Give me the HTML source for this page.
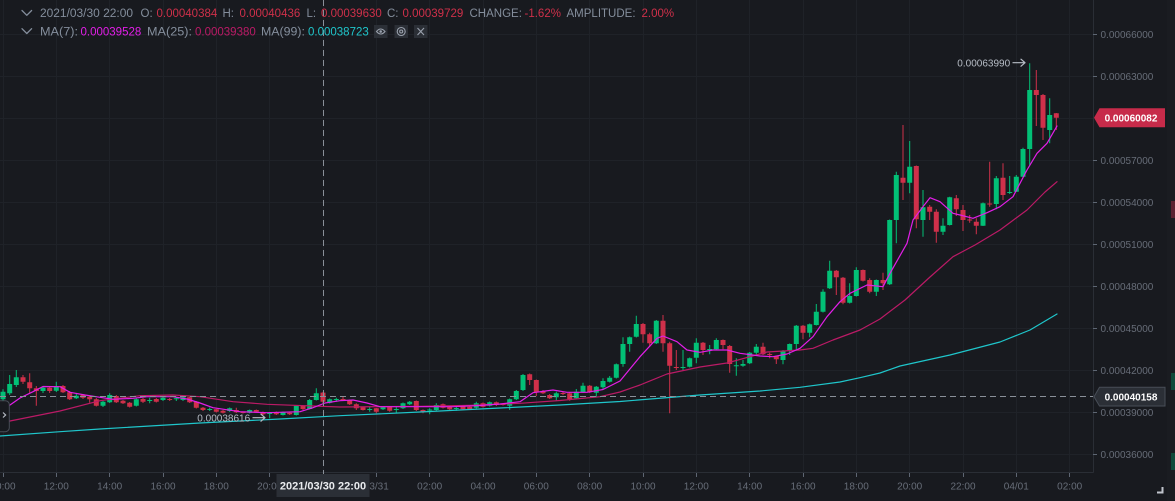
<!DOCTYPE html>
<html><head><meta charset="utf-8"><style>
html,body{margin:0;padding:0;background:#181a1f;}
body{width:1175px;height:501px;overflow:hidden;position:relative;font-family:"Liberation Sans",sans-serif;}
svg{position:absolute;left:0;top:0;}
</style></head><body>
<svg width="1175" height="501" viewBox="0 0 1175 501" xmlns="http://www.w3.org/2000/svg" font-family="Liberation Sans, sans-serif">
<rect x="0" y="0" width="1175" height="501" fill="#181a1f"/>
<!-- grid -->
<g stroke="#1f2228" stroke-width="1">
<path d="M3.5 0V472M56.5 0V472M109.5 0V472M163.5 0V472M216.5 0V472M269.5 0V472M323.5 0V472M376.5 0V472M429.5 0V472M483.5 0V472M536.5 0V472M589.5 0V472M643.5 0V472M696.5 0V472M749.5 0V472M803.5 0V472M856.5 0V472M909.5 0V472M963.5 0V472M1016.5 0V472M1069.5 0V472"/>
<path d="M0 34.5H1093M0 76.5H1093M0 118.5H1093M0 160.5H1093M0 202.5H1093M0 244.5H1093M0 286.5H1093M0 328.5H1093M0 370.5H1093M0 412.5H1093M0 454.5H1093"/>
</g>
<!-- right strip -->
<rect x="1167" y="0" width="8" height="501" fill="#1a1c21"/>
<rect x="1171" y="201" width="4" height="17" fill="#5a2131"/>
<rect x="1171" y="373" width="4" height="17" fill="#10493a"/>
<rect x="1171" y="453" width="4" height="17" fill="#10493a"/>
<!-- green candles -->
<path fill="#02c076" d="M0.5 391.7h5v7.6h-5zM2.5 389.3h1v11.7h-1zM7.2 384h5v9.3h-5zM9.2 375h1v20h-1zM13.8 377.3h5v7.7h-5zM15.8 370h1v17h-1zM40.5 387.7h5v3.3h-5zM42.5 386h1v7h-1zM53.8 386h5v4.7h-5zM55.8 381.7h1v10.3h-1zM73.8 395.7h5v2.6h-5zM75.8 393.3h1v5.7h-1zM100.5 401.7h5v4h-5zM102.5 401h1v6h-1zM107.2 395h5v7.3h-5zM109.2 393.3h1v9.7h-1zM133.8 399.3h5v6.4h-5zM135.8 398.5h1v8h-1zM147.2 400h5v1h-5zM149.2 397.7h1v5.6h-1zM160.5 397.7h5v2.3h-5zM162.5 397h1v4h-1zM173.8 398.3h5v1h-5zM175.8 397h1v4h-1zM180.5 397.3h5v2.7h-5zM182.5 396.5h1v4.5h-1zM207.2 409h5v1h-5zM209.2 407.5h1v3.5h-1zM227.2 408.3h5v2.7h-5zM229.2 407.5h1v4.5h-1zM247.2 410h5v2.7h-5zM249.2 409.5h1v4h-1zM267.2 413h5v1h-5zM269.2 412h1v6.3h-1zM280.5 412.3h5v2.7h-5zM282.5 411.5h1v4h-1zM293.8 405.7h5v9.3h-5zM295.8 405h1v10.5h-1zM307.2 400h5v9h-5zM309.2 399h1v10.5h-1zM313.8 393.3h5v6.7h-5zM315.8 388.3h1v12.2h-1zM327.2 399.3h5v3.4h-5zM329.2 398.5h1v5h-1zM333.8 399h5v1h-5zM335.8 397.7h1v4h-1zM367.2 409h5v1h-5zM369.2 406.7h1v5h-1zM380.5 407.3h5v2h-5zM382.5 406.5h1v3.5h-1zM393.8 409h5v1h-5zM395.8 406.7h1v6h-1zM400.5 403.3h5v5h-5zM402.5 402.5h1v6.5h-1zM407.2 401.7h5v2.6h-5zM409.2 401h1v4h-1zM427.2 409.5h5v1h-5zM429.2 408.3h1v6h-1zM433.8 405h5v5h-5zM435.8 403.3h1v7.2h-1zM453.8 408h5v1h-5zM455.8 406.7h1v4h-1zM473.8 403.3h5v4.4h-5zM475.8 401.7h1v6.8h-1zM487.2 402.3h5v3.4h-5zM489.2 401.5h1v5h-1zM507.2 399.3h5v6.4h-5zM509.2 398.5h1v11.5h-1zM513.8 391h5v8.3h-5zM515.8 390h1v10h-1zM520.5 375h5v15h-5zM522.5 374h1v17h-1zM553.8 393.3h5v4h-5zM555.8 391.7h1v9h-1zM573.8 391.7h5v6.6h-5zM575.8 389h1v10h-1zM580.5 385.7h5v6.6h-5zM582.5 382.7h1v10.3h-1zM593.8 386.7h5v6h-5zM595.8 386h1v11.3h-1zM600.5 381h5v6.3h-5zM602.5 378.3h1v11.7h-1zM607.2 377.7h5v4h-5zM609.2 376h1v6.5h-1zM613.8 364.3h5v13.4h-5zM615.8 363.5h1v15h-1zM620.5 344h5v20h-5zM622.5 337.3h1v29.4h-1zM627.2 337.3h5v6.7h-5zM629.2 336.5h1v15.2h-1zM633.8 324h5v12.7h-5zM635.8 315.7h1v21.8h-1zM653.8 320.7h5v22.6h-5zM655.8 320h1v24h-1zM680.5 367h5v1h-5zM682.5 350h1v20h-1zM687.2 358.3h5v8.4h-5zM689.2 357.5h1v10h-1zM693.8 342.7h5v15h-5zM695.8 338.3h1v25h-1zM707.2 349h5v1h-5zM709.2 345h1v9.3h-1zM713.8 340h5v9.3h-5zM715.8 338.3h1v11.7h-1zM733.8 365.2h5v1h-5zM735.8 358.3h1v17.4h-1zM740.5 364h5v1.7h-5zM742.5 360h1v6.7h-1zM747.2 352.7h5v10.6h-5zM749.2 352h1v12h-1zM753.8 346.7h5v6h-5zM755.8 344h1v12h-1zM780.5 350.7h5v9.3h-5zM782.5 350h1v14.3h-1zM787.2 344h5v6.7h-5zM789.2 343.5h1v11.5h-1zM793.8 325.7h5v18.3h-5zM795.8 325h1v24.3h-1zM807.2 324.3h5v8.4h-5zM809.2 323.5h1v13.8h-1zM813.8 311.7h5v13.3h-5zM815.8 304h1v21.5h-1zM820.5 291.7h5v20h-5zM822.5 289.3h1v23.2h-1zM827.2 270.7h5v17.6h-5zM829.2 260.7h1v28.3h-1zM847.2 296h5v6.7h-5zM849.2 283.3h1v20.2h-1zM853.8 270h5v26h-5zM855.8 267.3h1v29.2h-1zM873.8 280h5v11.7h-5zM875.8 279.5h1v16.5h-1zM887.2 220h5v64.3h-5zM889.2 219.5h1v65.5h-1zM893.8 175h5v45h-5zM895.8 171.7h1v71.6h-1zM907.2 166.7h5v16h-5zM909.2 141h1v52.3h-1zM920.5 207.3h5v12.7h-5zM922.5 190h1v46.7h-1zM940.5 225.7h5v6h-5zM942.5 218.3h1v16.7h-1zM947.2 197.3h5v27.7h-5zM949.2 196.7h1v28.8h-1zM980.5 203.3h5v22.4h-5zM982.5 202.5h1v23.5h-1zM993.8 178.3h5v25.7h-5zM995.8 176h1v33.3h-1zM1007.2 192h5v1h-5zM1009.2 176h1v18h-1zM1013.8 176.7h5v15h-5zM1015.8 175h1v17h-1zM1020.5 149h5v27.7h-5zM1022.5 147.7h1v29.3h-1zM1027.2 90h5v59h-5zM1029.2 63.3h1v101.7h-1zM1047.2 115h5v15h-5zM1049.2 98.3h1v45h-1z"/>
<!-- red candles -->
<path fill="#cf304a" d="M20.5 377.3h5v4.4h-5zM22.5 375h1v9h-1zM27.2 382.3h5v6h-5zM29.2 373.3h1v20h-1zM33.8 388.3h5v2.7h-5zM35.8 386h1v19.7h-1zM47.2 387.7h5v3.3h-5zM49.2 386h1v7h-1zM60.5 386h5v6.3h-5zM62.5 385h1v8h-1zM67.2 392.3h5v7h-5zM69.2 391h1v9h-1zM80.5 395h5v2.7h-5zM82.5 394h1v5h-1zM87.2 396.7h5v2.6h-5zM89.2 395.5h1v7.2h-1zM93.8 399.3h5v6.4h-5zM95.8 398h1v8.5h-1zM113.8 396h5v6.3h-5zM115.8 395h1v8h-1zM120.5 400.7h5v2.6h-5zM122.5 400h1v4h-1zM127.2 402.7h5v4h-5zM129.2 402h1v5.5h-1zM140.5 399h5v2.7h-5zM142.5 398h1v5h-1zM153.8 399h5v2.7h-5zM155.8 398h1v4.5h-1zM167.2 399h5v1h-5zM169.2 398h1v3h-1zM187.2 397.3h5v5h-5zM189.2 396.7h1v6.3h-1zM193.8 401.7h5v6h-5zM195.8 401h1v7.5h-1zM200.5 407.7h5v2.3h-5zM202.5 407h1v4h-1zM213.8 409.3h5v2.4h-5zM215.8 409h1v3.5h-1zM220.5 410.7h5v2h-5zM222.5 410h1v3.5h-1zM233.8 410h5v2.3h-5zM235.8 407.7h1v5.3h-1zM240.5 412h5v1h-5zM242.5 411.5h1v2h-1zM253.8 410h5v1.7h-5zM255.8 409.5h1v3h-1zM260.5 412.3h5v2h-5zM262.5 411.5h1v3.5h-1zM273.8 412.3h5v2h-5zM275.8 411.5h1v3.5h-1zM287.2 412.7h5v1.6h-5zM289.2 412h1v3h-1zM300.5 405.7h5v3.3h-5zM302.5 405h1v5h-1zM320.5 392.6h5v9.2h-5zM322.5 391.9h1v11.3h-1zM340.5 399h5v1.7h-5zM342.5 396.7h1v4.3h-1zM347.2 400h5v4.3h-5zM349.2 399.5h1v5.5h-1zM353.8 404.3h5v4h-5zM355.8 403.3h1v6.7h-1zM360.5 407.3h5v2.7h-5zM362.5 406.5h1v4h-1zM373.8 408.3h5v3.4h-5zM375.8 408h1v5.3h-1zM387.2 406.7h5v4h-5zM389.2 406h1v5.7h-1zM413.8 401h5v9h-5zM415.8 400.5h1v10.5h-1zM420.5 410h5v1.7h-5zM422.5 409.5h1v3.8h-1zM440.5 404.3h5v3.4h-5zM442.5 403.5h1v5h-1zM447.2 406.7h5v2.6h-5zM449.2 406h1v4h-1zM460.5 406h5v3.3h-5zM462.5 405.5h1v4.5h-1zM467.2 406.7h5v2.6h-5zM469.2 406h1v4h-1zM480.5 403.3h5v3.4h-5zM482.5 402.5h1v5h-1zM493.8 402.3h5v2.7h-5zM495.8 401.5h1v4.5h-1zM500.5 404h5v1h-5zM502.5 403.5h1v2h-1zM527.2 374.3h5v5.7h-5zM529.2 373.5h1v11.5h-1zM533.8 380h5v12.3h-5zM535.8 379.5h1v16.5h-1zM540.5 391h5v2.3h-5zM542.5 390h1v4h-1zM547.2 395h5v3.3h-5zM549.2 394h1v5h-1zM560.5 393h5v1h-5zM562.5 391.7h1v3.3h-1zM567.2 393.3h5v6h-5zM569.2 392.5h1v8.2h-1zM587.2 385.7h5v6.6h-5zM589.2 385h1v8h-1zM640.5 324h5v10.3h-5zM642.5 323h1v19.7h-1zM647.2 334.3h5v9h-5zM649.2 332.7h1v14h-1zM660.5 320.7h5v22.6h-5zM662.5 315h1v36.7h-1zM667.2 343.3h5v22.4h-5zM669.2 341.7h1v71.6h-1zM673.8 367h5v1h-5zM675.8 350h1v20h-1zM700.5 342.7h5v7.3h-5zM702.5 342h1v13h-1zM720.5 340h5v5h-5zM722.5 339.5h1v9.8h-1zM727.2 346h5v18h-5zM729.2 345h1v27.7h-1zM760.5 346.7h5v7.6h-5zM762.5 342.7h1v12.3h-1zM767.2 354h5v1h-5zM769.2 352.7h1v5.6h-1zM773.8 356h5v3.3h-5zM775.8 355.5h1v8.5h-1zM800.5 325.7h5v7h-5zM802.5 325h1v14.3h-1zM833.8 270.7h5v6.6h-5zM835.8 270h1v25h-1zM840.5 277.7h5v25h-5zM842.5 277h1v27.3h-1zM860.5 270h5v10.7h-5zM862.5 269.5h1v12h-1zM867.2 280h5v11.7h-5zM869.2 278.3h1v15h-1zM880.5 280h5v3.3h-5zM882.5 272.7h1v17.3h-1zM900.5 177.7h5v5h-5zM902.5 125h1v75h-1zM913.8 166h5v53.3h-5zM915.8 165.5h1v62.8h-1zM927.2 206.7h5v5h-5zM929.2 205h1v15h-1zM933.8 211.7h5v20h-5zM935.8 209.3h1v33.4h-1zM953.8 198.3h5v11h-5zM955.8 195h1v21h-1zM960.5 210h5v10h-5zM962.5 205h1v26h-1zM967.2 219.5h5v1h-5zM969.2 215h1v7.7h-1zM973.8 221.7h5v4h-5zM975.8 218.3h1v16h-1zM987.2 203.5h5v1h-5zM989.2 161.7h1v45h-1zM1000.5 177.7h5v17.3h-5zM1002.5 163.3h1v36.7h-1zM1033.8 90h5v5h-5zM1035.8 70h1v56h-1zM1040.5 95h5v32.7h-5zM1042.5 94h1v46h-1zM1053.8 113.3h5v4.4h-5zM1055.8 113h1v17h-1z"/>
<!-- MA lines -->
<g fill="none" stroke-width="1.2" stroke-linejoin="round" stroke-linecap="round">
<polyline stroke="#1fc6cb" points="0,436 60,431.7 100,429 200,423 280,419 340,415.7 420,412 500,408 560,405 620,401.5 700,395 760,391 800,387.3 840,382 860,377.7 880,373 900,366 950,355 1000,342 1030,330 1057,314"/>
<polyline stroke="#bb1a66" points="0,423.5 10,421 60,411 100,400.7 140,395.7 173,395 200,396.7 233,401.7 267,404.3 340,407 420,406.3 470,405.3 520,403.3 560,400.5 600,396.7 620,392 640,385 667,374 700,367 727,363 767,352 800,350 813,348.3 833,340 860,330 880,319 905,300 930,277 953,256.7 975,245 1000,230 1027,210 1045,192 1057,181.7"/>
<polyline stroke="#e31ee8" points="0,410 10,405 20,398 33,391.7 43,386.5 60,386.7 70,392.3 85,395 100,397.3 113,399.3 133,398.3 147,396.7 173,396.7 187,399 200,403 213,407.7 240,411.7 267,412.7 300,411.7 313,407.7 325,403 340,400.7 353,400 367,403 380,406.7 420,406.7 453,406.7 480,405.5 500,404 520,401.7 533,392.7 553,390 567,392.3 587,392.3 603,389.5 620,381 640,356.7 657,338.3 663,336 677,341.7 687,350 700,352.3 713,350 727,350 740,353.3 760,356 773,356.7 787,354 800,348.3 813,336.7 827,316.7 840,301.7 850,293.3 867,285 883,286.7 890,273.3 907,243.3 913,220 923,206.7 930,197.7 940,201.7 953,213.3 960,215 973,218.3 987,212.7 1000,206.7 1013,196.7 1027,170 1037,153.3 1047,143.3 1057,126"/>
</g>
<!-- axes separators -->
<path d="M1093.5 0V472.5M0 472.5H1093.5" stroke="#2a2e35" stroke-width="1" fill="none"/>
<!-- price axis ticks -->
<path stroke="#5e6673" stroke-width="1" d="M1093 34.5h4M1093 76.5h4M1093 160.5h4M1093 202.5h4M1093 244.5h4M1093 286.5h4M1093 328.5h4M1093 370.5h4M1093 412.5h4M1093 454.5h4"/>
<g font-size="10" fill="#676d78">
<text x="1100.5" y="38">0.00066000</text>
<text x="1100.5" y="80">0.00063000</text>
<text x="1100.5" y="164">0.00057000</text>
<text x="1100.5" y="206">0.00054000</text>
<text x="1100.5" y="248">0.00051000</text>
<text x="1100.5" y="290">0.00048000</text>
<text x="1100.5" y="332">0.00045000</text>
<text x="1100.5" y="374">0.00042000</text>
<text x="1100.5" y="416">0.00039000</text>
<text x="1100.5" y="458">0.00036000</text>
</g>
<!-- time axis ticks -->
<path stroke="#5e6673" stroke-width="1" d="M3.5 473v4M56.5 473v4M109.5 473v4M163.5 473v4M216.5 473v4M269.5 473v4M376.5 473v4M429.5 473v4M483.5 473v4M536.5 473v4M589.5 473v4M643.5 473v4M696.5 473v4M749.5 473v4M803.5 473v4M856.5 473v4M909.5 473v4M963.5 473v4M1016.5 473v4M1069.5 473v4"/>
<g font-size="10" fill="#676d78" text-anchor="middle">
<text x="3" y="489.5">10:00</text>
<text x="56.3" y="489.5">12:00</text>
<text x="109.7" y="489.5">14:00</text>
<text x="163" y="489.5">16:00</text>
<text x="216.3" y="489.5">18:00</text>
<text x="269.7" y="489.5">20:00</text>
<text x="376.3" y="489.5">03/31</text>
<text x="429.7" y="489.5">02:00</text>
<text x="483" y="489.5">04:00</text>
<text x="536.3" y="489.5">06:00</text>
<text x="589.7" y="489.5">08:00</text>
<text x="643" y="489.5">10:00</text>
<text x="696.3" y="489.5">12:00</text>
<text x="749.7" y="489.5">14:00</text>
<text x="803" y="489.5">16:00</text>
<text x="856.3" y="489.5">18:00</text>
<text x="909.7" y="489.5">20:00</text>
<text x="963" y="489.5">22:00</text>
<text x="1016.3" y="489.5">04/01</text>
<text x="1069.7" y="489.5">02:00</text>
</g>
<!-- crosshair -->
<g stroke="#8a9099" stroke-width="1" stroke-dasharray="6 4" fill="none">
<path d="M323.5 0V476"/>
<path d="M0 396.5H1093"/>
</g>
<!-- crosshair time label -->
<rect x="276.5" y="474" width="93" height="23" fill="#2b2f36"/>
<text x="323" y="489.5" font-size="11" font-weight="bold" fill="#eaecef" text-anchor="middle">2021/03/30 22:00</text>
<!-- price labels -->
<polygon points="1094,117.8 1099.5,108.3 1165,108.3 1165,127.3 1099.5,127.3" fill="#c72b4a"/>
<text x="1131" y="121.5" font-size="10" font-weight="bold" fill="#ffffff" text-anchor="middle">0.00060082</text>
<polygon points="1094,396.7 1099.5,387.3 1165,387.3 1165,406 1099.5,406" fill="#2b2f36" stroke="#474d57" stroke-width="1"/>
<text x="1131" y="400.5" font-size="10" font-weight="bold" fill="#ffffff" text-anchor="middle">0.00040158</text>
<!-- high / low markers -->
<g font-size="10" fill="#b7bdc6">
<text x="957.3" y="66.3">0.00063990</text>
<text x="197.3" y="421.3">0.00038616</text>
</g>
<g stroke="#b7bdc6" stroke-width="1.2" fill="none" stroke-linecap="round" stroke-linejoin="round">
<path d="M1013 62.7H1025M1021 59.2L1025 62.7L1021 66.2"/>
<path d="M253 417.7H265M261 414.2L265 417.7L261 421.2"/>
</g>
<!-- left collapse panel -->
<rect x="-5" y="400.7" width="14.3" height="31" rx="4" fill="#181a1f" stroke="#474d57" stroke-width="1"/>
<path d="M3 412.5L5.6 415L3 417.5" stroke="#b7bdc6" stroke-width="1.2" fill="none"/>
<!-- corner bracket -->
<path d="M1157 492.5H1162.5V487" stroke="#c0c4cc" stroke-width="2" fill="none"/>
<!-- header -->
<g stroke="#848e9c" stroke-width="1.3" fill="none" stroke-linecap="round" stroke-linejoin="round">
<path d="M22 10.5L26.8 15.3L31.6 10.5"/>
<path d="M22 28.7L26.8 33.5L31.6 28.7"/>
</g>
<g font-size="11.5">
<text x="40" y="17.2" fill="#848e9c" textLength="93" lengthAdjust="spacingAndGlyphs">2021/03/30 22:00</text>
<text x="140.5" y="17.2" fill="#848e9c">O:</text>
<text x="156.5" y="17.2" fill="#cf304a">0.00040384</text>
<text x="222.5" y="17.2" fill="#848e9c">H:</text>
<text x="239.5" y="17.2" fill="#cf304a">0.00040436</text>
<text x="306.5" y="17.2" fill="#848e9c">L:</text>
<text x="321" y="17.2" fill="#cf304a">0.00039630</text>
<text x="387" y="17.2" fill="#848e9c">C:</text>
<text x="402.5" y="17.2" fill="#cf304a">0.00039729</text>
<text x="469.5" y="17.2" fill="#848e9c">CHANGE:</text>
<text x="524.5" y="17.2" fill="#cf304a">-1.62%</text>
<text x="566.5" y="17.2" fill="#848e9c">AMPLITUDE:</text>
<text x="641.5" y="17.2" fill="#cf304a">2.00%</text>
<text x="40" y="35.5" fill="#848e9c" textLength="38" lengthAdjust="spacingAndGlyphs">MA(7):</text>
<text x="80.5" y="35.5" fill="#e31ee8">0.00039528</text>
<text x="147" y="35.5" fill="#848e9c" textLength="45" lengthAdjust="spacingAndGlyphs">MA(25):</text>
<text x="195" y="35.5" fill="#bb1a66">0.00039380</text>
<text x="261" y="35.5" fill="#848e9c" textLength="44" lengthAdjust="spacingAndGlyphs">MA(99):</text>
<text x="308" y="35.5" fill="#1fc6cb">0.00038723</text>
</g>
<!-- header icons -->
<rect x="374" y="25" width="13.5" height="13" fill="#2b2f36"/>
<rect x="394.5" y="25" width="13.5" height="13" fill="#2b2f36"/>
<rect x="414" y="25" width="13.5" height="13" fill="#2b2f36"/>
<g stroke="#9aa1ad" stroke-width="1.1" fill="none">
<path d="M376.5 31.5Q380.7 26.5 385 31.5Q380.7 36.5 376.5 31.5Z"/>
<circle cx="380.7" cy="31.5" r="1.3" fill="#9aa1ad" stroke="none"/>
<circle cx="401.2" cy="31.5" r="4"/>
<circle cx="401.2" cy="31.5" r="1.5"/>
<path d="M417.5 28L424 35M424 28L417.5 35"/>
</g>
</svg>
</body></html>
